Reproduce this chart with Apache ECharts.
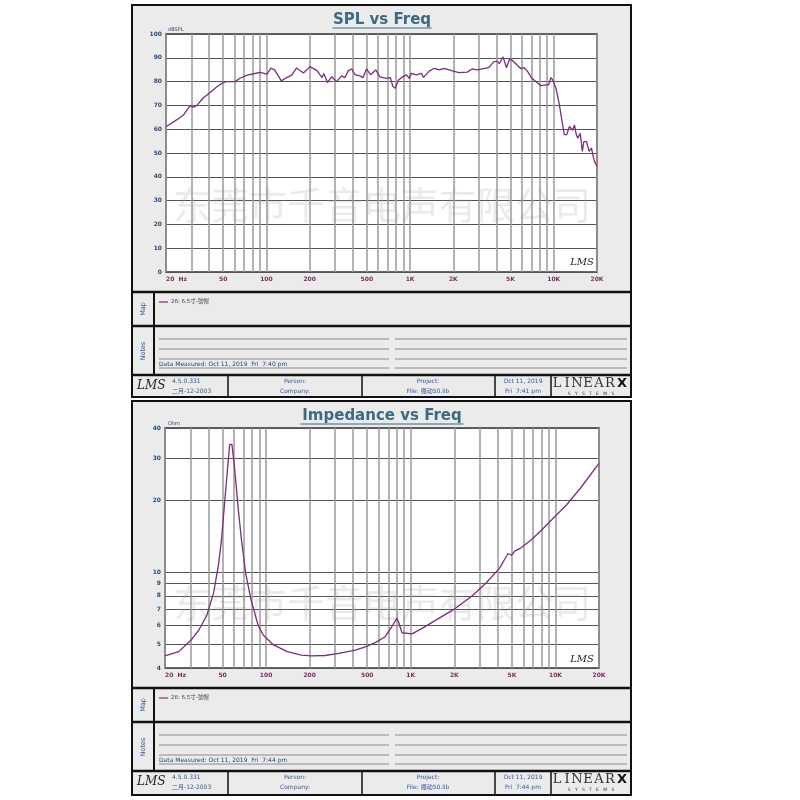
<!DOCTYPE html>
<html>
<head>
<meta charset="utf-8">
<script src="https://cdn.jsdelivr.net/npm/echarts@6/dist/echarts.min.js"></script>
<style>
  html, body { margin: 0; padding: 0; background: #fff; }
  #chart { width: 800px; height: 800px; }
</style>
</head>
<body>
<div id="chart"></div>
<script>
// SPL response (Hz, dBSPL)
const splFreq = [20, 23.7, 26.5, 29.4, 31, 32.7, 36.3, 40.4, 45, 50, 52.7, 60.4, 65.5, 73.6, 81.6, 90.3, 93, 100.9, 107.4, 114,
  127, 138.5, 150, 162, 181, 201, 225, 244, 251, 266, 284, 308, 334, 352, 372, 393, 414, 446, 470, 497,
  530, 577, 617, 687, 727, 760, 788, 830, 894, 944, 985, 1022, 1104, 1196, 1241, 1364, 1475, 1597, 1729, 1974,
  2190, 2497, 2705, 2930, 3172, 3530, 3822, 4030, 4186, 4436, 4690, 4920, 5130, 5420, 5880, 6200, 6540, 7030, 7500, 8140,
  8830, 9200, 9560, 9820, 10370, 10940, 11420, 11850, 12300, 12840, 13560, 13940, 14330, 14700, 15290, 15800, 16200, 16900, 17630, 18300,
  18800, 19200, 20000];
const splDb = [61, 63.9, 66, 69.9, 69.3, 69.9, 73.1, 75.3, 77.7, 79.6, 80, 80, 81.4, 82.7, 83.3, 83.9, 84.1, 83.1, 85.7, 84.9,
  80.3, 81.7, 82.7, 85.7, 83.6, 86.3, 84.6, 81.7, 83.4, 79.6, 82, 80, 82.4, 81.7, 84.6, 85.3, 82.9, 82.4, 81.7, 85.3,
  82.9, 84.9, 82, 81.4, 81.7, 77.9, 77.2, 80.7, 82.1, 82.8, 81.4, 83.5, 82.8, 83.5, 81.8, 84.5, 85.6, 84.9, 85.6, 84.5,
  83.8, 84, 85.3, 84.9, 85.3, 85.9, 88.3, 88.6, 87.6, 90.4, 85.8, 89.4, 89, 87.6, 85.5, 85.9, 84.5, 81.4, 80, 78.3,
  78.6, 78.6, 81.7, 80.8, 77.2, 70.3, 63.3, 57.7, 57.7, 61.1, 59.7, 61.8, 57.9, 56.2, 58.3, 50.7, 54.8, 54.8, 50.7, 52.1,
  48.6, 46.5, 44.4];

// impedance (Hz, Ohm)
const impFreq = [20, 24.9, 30.3, 34.3, 39, 43.3, 46.8, 49.1, 53.5, 56, 58, 60.4, 64.3, 67.6, 72.3, 78.6, 87.9, 95.5, 112.5, 140,
  175, 206, 256, 318, 414, 485, 568, 665, 739, 801, 824, 870, 1020, 1197, 1561, 2036, 2650, 3300, 4100, 4700,
  4970, 5250, 5700, 6720, 8000, 10000, 12000, 15000, 17000, 20000];
const impOhm = [4.49, 4.68, 5.23, 5.76, 6.65, 8.2, 10.7, 13.6, 25, 34.2, 34.2, 27.6, 18.2, 13.6, 9.9, 7.7, 6.05, 5.49, 4.99, 4.68,
  4.53, 4.49, 4.51, 4.6, 4.75, 4.9, 5.1, 5.4, 5.94, 6.44, 6.2, 5.61, 5.55, 5.85, 6.44, 7.09, 7.98, 9.02, 10.4, 12.0,
  11.8, 12.3, 12.6, 13.6, 15.0, 17.2, 19.2, 22.6, 25, 28.5];

// grid lines and tick labels
const freqGrid = [20, 30, 40, 50, 60, 70, 80, 90, 100, 200, 300, 400, 500, 600, 700, 800, 900,
  1000, 2000, 3000, 4000, 5000, 6000, 7000, 8000, 9000, 10000, 20000];
const freqLabels = [20, 50, 100, 200, 500, 1000, 2000, 5000, 10000, 20000];
const ohmTicks = [4, 5, 6, 7, 8, 9, 10, 20, 30, 40];

const FONT = '"DejaVu Sans", "Noto Sans CJK SC", sans-serif';
const CURVE = '#7d2c7d';
const BLUE = '#2f5b9a';

const fmtFreq = v => v === 20 ? '20  Hz' : (v >= 1000 ? (v / 1000) + 'K' : String(v));

function freqAxis(gridIndex) {
  return {
    type: 'log', logBase: 10, gridIndex: gridIndex, min: 20, max: 20000,
    axisLine: { show: false },
    axisTick: { show: false, customValues: freqGrid },
    axisLabel: {
      customValues: freqLabels, formatter: fmtFreq, color: '#7b2d5c',
      fontSize: 6, fontWeight: 'bold', fontFamily: FONT, margin: 4, alignMinLabel: 'left'
    },
    splitLine: { show: true, lineStyle: { color: '#9a9a9a', width: 1.5 } }
  };
}

function txt(x, y, text, o) {
  return {
    type: 'text', x: x, y: y, z: 50, silent: true,
    style: Object.assign({ text: text, fill: BLUE, fontSize: 6, fontFamily: FONT, align: 'left', verticalAlign: 'middle' }, o || {})
  };
}
function ln(x1, y1, x2, y2, w, c, z) {
  return { type: 'line', z: z == null ? 40 : z, silent: true, shape: { x1: x1, y1: y1, x2: x2, y2: y2 }, style: { stroke: c || '#111', lineWidth: w || 1 } };
}

// one LMS report sheet, shifted down by dy
function sheet(dy, h, title, titleW, measured, printed) {
  const g = [];
  g.push({ type: 'rect', z: -10, silent: true, shape: { x: 132, y: 5 + dy, width: 499, height: h },
    style: { fill: '#ebebeb', stroke: '#111', lineWidth: 2 } });
  // title
  g.push(txt(382, 20 + dy, title, { fill: '#3b6a82', fontSize: 15, fontWeight: 'bold', align: 'center' }));
  g.push(ln(382 - titleW / 2, 28 + dy, 382 + titleW / 2, 28 + dy, 1.2, '#3b6a82'));
  // section rules
  [292, 326, 375].forEach(y => g.push(ln(132, y + dy, 631, y + dy, 2.5)));
  g.push(ln(154, 292 + dy, 154, 375 + dy, 2));
  [228, 362, 495, 551].forEach(x => g.push(ln(x, 375 + dy, x, 5 + dy + h, 1.5)));
  // Map
  g.push(txt(143, 309 + dy, 'Map', { align: 'center', fontSize: 6.5 }));
  g[g.length - 1].rotation = Math.PI / 2;
  g.push(ln(159, 302 + dy, 168, 302 + dy, 1.2, CURVE));
  g.push(txt(171, 302 + dy, '26: 6.5寸-號帽', { fill: '#444', fontSize: 5.5 }));
  // Notes
  g.push(txt(143, 351 + dy, 'Notes', { align: 'center', fontSize: 6.5 }));
  g[g.length - 1].rotation = Math.PI / 2;
  [339, 349, 359, 368].forEach(y => {
    g.push(ln(159, y + dy, 389, y + dy, 1, '#8a8a8a'));
    g.push(ln(395, y + dy, 627, y + dy, 1, '#8a8a8a'));
  });
  g.push(txt(159, 364 + dy, 'Data Measured: ' + measured, { fill: '#1f3f7a', fontSize: 6 }));
  // footer
  g.push(txt(137, 386 + dy, 'LMS', { fill: '#222', fontSize: 12, fontStyle: 'italic', fontFamily: '"DejaVu Serif", serif' }));
  g.push(txt(172, 381 + dy, '4.5.0.331'));
  g.push(txt(172, 391 + dy, '二月-12-2003'));
  g.push(txt(295, 381 + dy, 'Person:', { align: 'center' }));
  g.push(txt(295, 391 + dy, 'Company:', { align: 'center' }));
  g.push(txt(428, 381 + dy, 'Project:', { align: 'center' }));
  g.push(txt(428, 391 + dy, 'File: 振动50.lib', { align: 'center' }));
  g.push(txt(523, 381 + dy, 'Oct 11, 2019', { align: 'center' }));
  g.push(txt(523, 391 + dy, printed, { align: 'center' }));
  const letters = ['L', 'I', 'N', 'E', 'A', 'R'];
  const lx = [557, 567, 577, 588, 599, 610];
  letters.forEach((c, i) => g.push(txt(lx[i], 384 + dy, c, { fill: '#333', fontSize: 13, align: 'center', fontFamily: '"DejaVu Serif", serif' })));
  g.push(txt(622, 384 + dy, 'X', { fill: '#111', fontSize: 13, fontWeight: 'bold', align: 'center', fontFamily: '"DejaVu Sans", sans-serif' }));
  g.push(txt(591, 393.5 + dy, 'S   Y   S   T   E   M   S', { fill: '#333', fontSize: 4.5, align: 'center' }));
  return g;
}

function overlay(yMark, logoY) {
  return [
    { type: 'text', z: 1, silent: true, x: 382, y: yMark,
      style: { text: '东莞市千音电声有限公司', fill: 'rgba(150,150,150,0.2)', fontSize: 38,
        fontFamily: '"Noto Sans CJK SC", sans-serif', align: 'center', verticalAlign: 'middle' } },
    txt(582, logoY, 'LMS', { fill: '#222', fontSize: 10, fontStyle: 'italic', align: 'center', fontFamily: '"DejaVu Serif", serif' })
  ];
}

const graphics = [].concat(
  sheet(0, 392, 'SPL vs Freq', 99, 'Oct 11, 2019  Fri  7:40 pm', 'Fri  7:41 pm'),
  sheet(396, 394, 'Impedance vs Freq', 163, 'Oct 11, 2019  Fri  7:44 pm', 'Fri  7:44 pm'),
  overlay(205, 262),
  overlay(603, 659),
  [
    txt(168, 30, 'dBSPL', { fill: '#2b4c72', fontSize: 5 }),
    txt(168, 424, 'Ohm', { fill: '#2b4c72', fontSize: 5 })
  ]
);

const chart = echarts.init(document.getElementById('chart'), null, { renderer: 'canvas' });

chart.setOption({
  animation: false,
  backgroundColor: '#ffffff',
  grid: [
    { left: 166, top: 34, width: 431, height: 238, show: true, backgroundColor: '#ffffff', borderColor: '#333', borderWidth: 1.5 },
    { left: 165, top: 428, width: 434, height: 240, show: true, backgroundColor: '#ffffff', borderColor: '#333', borderWidth: 1.5 }
  ],
  xAxis: [freqAxis(0), freqAxis(1)],
  yAxis: [
    {
      type: 'value', gridIndex: 0, min: 0, max: 100, interval: 10,
      axisLine: { show: false }, axisTick: { show: false },
      axisLabel: { color: '#2b4c72', fontSize: 6, fontWeight: 'bold', fontFamily: FONT, margin: 4 },
      splitLine: { lineStyle: { color: '#555', width: 1 } }
    },
    {
      type: 'log', logBase: 10, gridIndex: 1, min: 4, max: 40,
      axisLine: { show: false },
      axisTick: { show: false, customValues: ohmTicks },
      axisLabel: { customValues: ohmTicks, color: '#2b4c72', fontSize: 6, fontWeight: 'bold', fontFamily: FONT, margin: 4 },
      splitLine: { lineStyle: { color: '#555', width: 1 } }
    }
  ],
  series: [
    {
      type: 'line', xAxisIndex: 0, yAxisIndex: 0, showSymbol: false, z: 5,
      lineStyle: { color: CURVE, width: 1.3 },
      data: splFreq.map((f, i) => [f, splDb[i]])
    },
    {
      type: 'line', xAxisIndex: 1, yAxisIndex: 1, showSymbol: false, z: 5,
      lineStyle: { color: CURVE, width: 1.3 },
      data: impFreq.map((f, i) => [f, impOhm[i]])
    }
  ],
  graphic: { elements: graphics }
});
</script>
</body>
</html>
